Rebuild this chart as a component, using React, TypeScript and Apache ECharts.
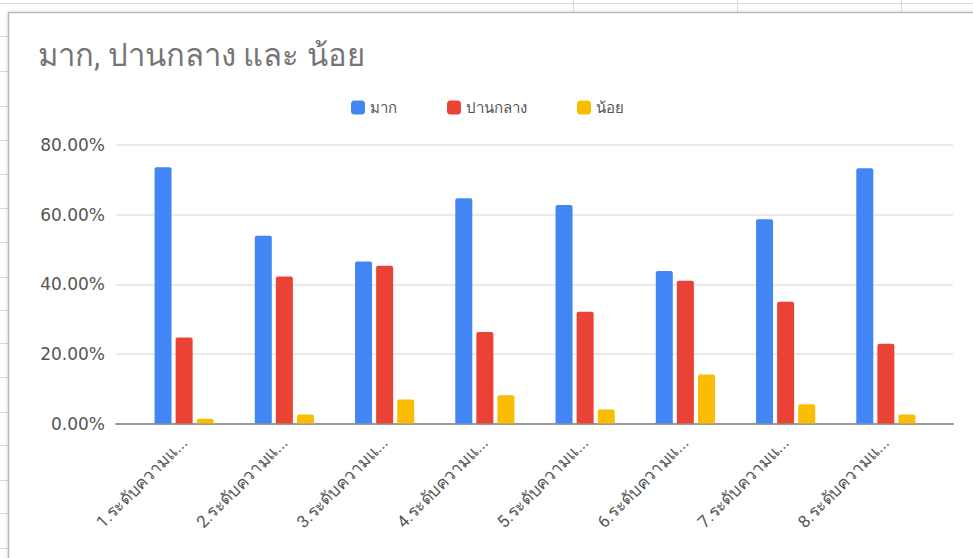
import React, { useEffect, useRef } from "react";
import * as echarts from "echarts";

const title = "มาก, ปานกลาง และ น้อย";
const seriesNames = ["มาก", "ปานกลาง", "น้อย"];
const categories = [
  "1.ระดับความแ...",
  "2.ระดับความแ...",
  "3.ระดับความแ...",
  "4.ระดับความแ...",
  "5.ระดับความแ...",
  "6.ระดับความแ...",
  "7.ระดับความแ...",
  "8.ระดับความแ...",
];
const muchValues = [73.6, 53.9, 46.5, 64.7, 62.8, 43.8, 58.7, 73.3];
const mediumValues = [24.7, 42.2, 45.3, 26.3, 32.1, 41.0, 35.0, 22.9];
const littleValues = [1.4, 2.6, 6.9, 8.1, 4.0, 14.1, 5.5, 2.6];
const colors = ["#4285F4", "#EA4335", "#FBBC04"];
const yMax = 80;
const yInterval = 20;

const sheetRowLines = [36, 71, 106, 140, 174, 208, 242, 277, 310, 343, 377, 412, 445, 480, 513, 548];
const sheetColLines = [573, 737, 901];

const FONT = "Roboto, 'Noto Sans', Arial, sans-serif";
const NUM_FONT = "'DejaVu Sans', Roboto, sans-serif";

export default function App() {
  const ref = useRef<HTMLDivElement>(null);
  useEffect(() => {
    if (!ref.current) return;
    const chart = echarts.init(ref.current, null, { renderer: "svg" });
    const seriesData = [muchValues, mediumValues, littleValues];
    const graphics: any[] = [];
    graphics.push({
      type: "line",
      z: -10,
      shape: { x1: 0, y1: 3.5, x2: 973, y2: 3.5 },
      style: { stroke: "#dadada", lineWidth: 1 },
      silent: true,
    });
    sheetColLines.forEach((x) =>
      graphics.push({
        type: "line",
        z: -10,
        shape: { x1: x + 0.5, y1: 0, x2: x + 0.5, y2: 12 },
        style: { stroke: "#dadada", lineWidth: 1 },
        silent: true,
      })
    );
    sheetRowLines.forEach((y) =>
      graphics.push({
        type: "line",
        z: -10,
        shape: { x1: 0, y1: y + 0.5, x2: 8, y2: y + 0.5 },
        style: { stroke: "#dadada", lineWidth: 1 },
        silent: true,
      })
    );
    graphics.push({
      type: "rect",
      z: -9,
      shape: { x: 8.5, y: 12.5, width: 1000, height: 600 },
      style: {
        fill: "#ffffff",
        stroke: "#b8b8b8",
        lineWidth: 1.5,
        shadowBlur: 4,
        shadowColor: "rgba(0,0,0,0.15)",
        shadowOffsetY: 1,
      },
      silent: true,
    });

    chart.setOption({
      animation: false,
      backgroundColor: "#ffffff",
      textStyle: { fontFamily: FONT },
      title: {
        text: title,
        left: 33,
        top: 35,
        textStyle: {
          color: "#757575",
          fontSize: 31,
          fontWeight: "normal",
          fontFamily: FONT,
        },
      },
      legend: {
        data: seriesNames,
        top: 95,
        left: 346,
        itemWidth: 14,
        itemHeight: 14,
        itemGap: 50,
        icon: "roundRect",
        textStyle: { color: "#555555", fontSize: 15, fontFamily: FONT },
      },
      graphic: graphics,
      grid: [
        { left: 116, right: 20, top: 145, bottom: 134.5, containLabel: false },
        { left: 134, right: 37, top: 145, bottom: 134.5, containLabel: false },
      ],
      xAxis: [
        {
          type: "category",
          gridIndex: 0,
          data: [""],
          axisLine: { show: true, lineStyle: { color: "#999999", width: 2 } },
          axisTick: { show: false },
          axisLabel: { show: false },
        },
        {
          type: "category",
          gridIndex: 1,
          data: categories,
          axisLine: { show: false },
          axisTick: { show: false },
          axisLabel: {
            rotate: 45,
            margin: 16,
            color: "#555555",
            fontSize: 17,
            fontFamily: FONT,
            interval: 0,
          },
        },
      ],
      yAxis: [
        {
          type: "value",
          gridIndex: 0,
          min: 0,
          max: yMax,
          interval: yInterval,
          axisLine: { show: false },
          axisTick: { show: false },
          splitLine: { lineStyle: { color: "#e3e3e3", width: 1.5 } },
          axisLabel: {
            color: "#555555",
            fontSize: 17,
            margin: 11,
            fontFamily: NUM_FONT,
            formatter: (v: number) => v.toFixed(2) + "%",
          },
        },
        {
          type: "value",
          gridIndex: 1,
          min: 0,
          max: yMax,
          interval: yInterval,
          axisLine: { show: false },
          axisTick: { show: false },
          splitLine: { show: false },
          axisLabel: { show: false },
        },
      ],
      series: seriesNames.map((name, i) => ({
        name,
        type: "bar",
        xAxisIndex: 1,
        yAxisIndex: 1,
        data: seriesData[i],
        barWidth: 17,
        barGap: "24%",
        itemStyle: { color: colors[i], borderRadius: [2, 2, 0, 0] },
        z: 3,
      })),
      color: colors,
    });
    return () => chart.dispose();
  }, []);
  return (
    <div
      ref={ref}
      style={{ position: "fixed", left: 0, top: 0, width: 973, height: 558 }}
    />
  );
}
